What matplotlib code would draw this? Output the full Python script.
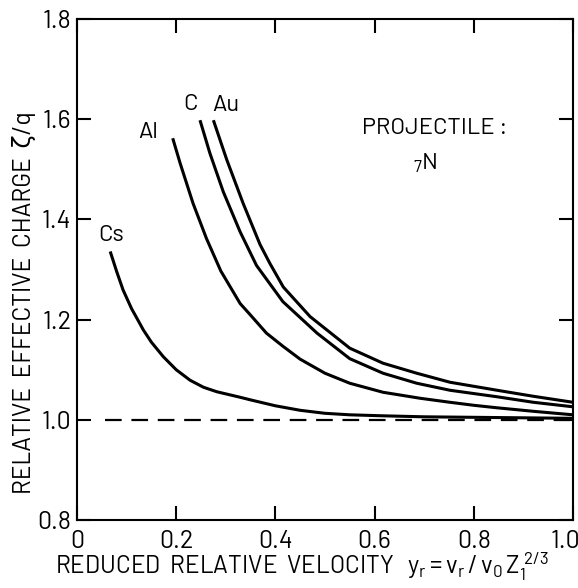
import matplotlib
matplotlib.use("Agg")
import matplotlib.pyplot as plt
from matplotlib.transforms import ScaledTranslation

# curves (reduced velocity, relative effective charge)
cs_x = [0.067, 0.080, 0.093, 0.110, 0.134, 0.150, 0.174, 0.200, 0.228, 0.255, 0.282, 0.329, 0.349, 0.40, 0.45, 0.50, 0.55, 0.617, 0.70, 0.80, 0.90, 1.0]
cs_y = [1.336, 1.296, 1.259, 1.222, 1.179, 1.155, 1.126, 1.100, 1.079, 1.065, 1.056, 1.045, 1.040, 1.028, 1.019, 1.013, 1.010, 1.008, 1.006, 1.005, 1.004, 1.003]

al_x = [0.193, 0.208, 0.234, 0.261, 0.290, 0.329, 0.349, 0.382, 0.415, 0.45, 0.50, 0.55, 0.617, 0.692, 0.752, 0.80, 0.847, 0.92, 1.0]
al_y = [1.562, 1.512, 1.432, 1.362, 1.297, 1.232, 1.210, 1.173, 1.147, 1.121, 1.093, 1.073, 1.055, 1.043, 1.035, 1.029, 1.024, 1.017, 1.010]

c_x = [0.248, 0.268, 0.295, 0.329, 0.362, 0.415, 0.484, 0.55, 0.617, 0.685, 0.752, 0.847, 0.92, 1.0]
c_y = [1.598, 1.532, 1.455, 1.375, 1.308, 1.236, 1.173, 1.122, 1.093, 1.073, 1.059, 1.046, 1.035, 1.026]

au_x = [0.275, 0.302, 0.335, 0.369, 0.389, 0.416, 0.470, 0.55, 0.617, 0.685, 0.752, 0.847, 0.92, 1.0]
au_y = [1.598, 1.519, 1.432, 1.350, 1.312, 1.265, 1.206, 1.143, 1.113, 1.093, 1.075, 1.059, 1.047, 1.035]

# reference line at 1.0
ref_x = [0.057, 1.0]
ref_y = [1.0, 1.0]

# curve labels and where they sit
labels = ["Cs", "Al", "C", "Au"]
label_x = [0.069, 0.144, 0.228, 0.300]
label_y = [1.367, 1.574, 1.629, 1.628]

xticks = [0, 0.2, 0.4, 0.6, 0.8, 1.0]
xtick_labels = ["0", "0.2", "0.4", "0.6", "0.8", "1.0"]
yticks = [0.8, 1.0, 1.2, 1.4, 1.6, 1.8]
ytick_labels = ["0.8", "1.0", "1.2", "1.4", "1.6", "1.8"]

FONT = 'Barlow'


def main():
    plt.rcParams['font.family'] = [FONT, 'DejaVu Sans']
    plt.rcParams['mathtext.fontset'] = 'custom'
    plt.rcParams['mathtext.rm'] = FONT
    plt.rcParams['mathtext.it'] = FONT
    plt.rcParams['mathtext.bf'] = FONT
    plt.rcParams['lines.scale_dashes'] = False

    fig = plt.figure(figsize=(5.78, 5.88), dpi=100)
    ax = fig.add_axes([0.1332, 0.1156, 0.8581, 0.8521])

    for xs, ys in [(cs_x, cs_y), (al_x, al_y), (c_x, c_y), (au_x, au_y)]:
        ax.plot(xs, ys, color='black', lw=2.2, solid_capstyle='butt')
    ax.plot(ref_x, ref_y, color='black', lw=1.6, dashes=(12, 7))

    for t, x, y in zip(labels, label_x, label_y):
        ax.text(x, y, t, fontsize=17, ha='center', va='center')

    ax.text(0.721, 1.582, "PROJECTILE :", fontsize=17, ha='center', va='center')
    ax.text(0.702, 1.513, "$_{7}$N", fontsize=17, ha='center', va='center')

    ax.set_xlim(0, 1.0)
    ax.set_ylim(0.8, 1.8)
    ax.set_xticks(xticks)
    ax.set_xticklabels(xtick_labels)
    ax.set_yticks(yticks)
    ax.set_yticklabels(ytick_labels)
    ax.tick_params(direction='in', length=10, width=1.5, labelsize=18,
                   top=True, right=True)
    ax.tick_params(axis='x', pad=7)
    ax.tick_params(axis='y', pad=4)
    for s in ax.spines.values():
        s.set_linewidth(1.5)

    # last x label sits inside the frame edge
    last = ax.get_xticklabels()[-1]
    last.set_transform(last.get_transform() + ScaledTranslation(-0.08, 0, fig.dpi_scale_trans))

    ax.set_xlabel(r"REDUCED  RELATIVE  VELOCITY   $y_r = v_r\,/\,v_0\,Z_1^{\,2/3}$",
                  fontsize=17.5)
    ax.xaxis.set_label_coords(0.454, -0.062)
    ax.set_ylabel("RELATIVE  EFFECTIVE  CHARGE  ζ/q", fontsize=17.5)
    ax.yaxis.set_label_coords(-0.082, 0.435)

    plt.savefig('out.png', dpi=100)


if __name__ == '__main__':
    main()
